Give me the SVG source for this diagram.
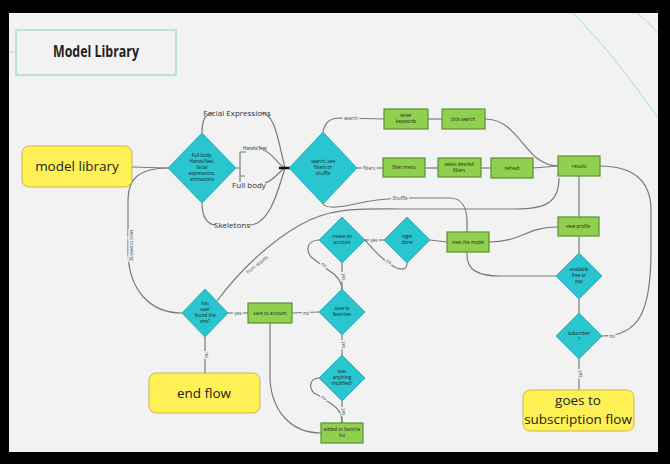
<svg xmlns="http://www.w3.org/2000/svg" width="670" height="464" viewBox="0 0 670 464">
<style>
.dia{fill:#29c6d0;stroke:#1ba3ad;stroke-width:0.8}
.box{fill:#8fd14f;stroke:#5c8f35;stroke-width:1.2}
.term{fill:#fff155;stroke:#b9a93c;stroke-width:0.8}
.ln{fill:none;stroke:#7a7a7a;stroke-width:1.2}
.t{font-family:"Open Sans","Liberation Sans",sans-serif;fill:#222;text-anchor:middle}
.s{font-size:4.6px}
.lbl{font-family:"Open Sans","Liberation Sans",sans-serif;font-size:4.6px;fill:#444;text-anchor:middle;paint-order:stroke;stroke:#f2f2f2;stroke-width:3px}
.big{font-size:13.5px}
.mid{font-size:8px;fill:#333}
</style>
<rect width="670" height="464" fill="#000"/>
<rect x="9" y="13" width="649" height="439" fill="#f2f2f2"/>
<path d="M573,13 Q615,55 658,118" fill="none" stroke="#9fe0d2" stroke-width="1"/>
<path d="M637,13 Q648,22 658,33" fill="none" stroke="#9fe0d2" stroke-width="1"/>
<g id="title">
<line x1="9" y1="52" x2="16" y2="52" stroke="#9fe0d2" stroke-width="1"/>
<rect x="16" y="30" width="160" height="45" fill="#f2f2f2" stroke="#a8ddd0" stroke-width="1.5"/>
<text class="t" x="96" y="57" font-size="15.5" font-weight="bold" textLength="86" lengthAdjust="spacingAndGlyphs">Model Library</text>
</g>
<g id="connectors">
<path class="ln" d="M132,167 L168,168"/>
<path class="ln" d="M202,133 C202,120 205,113 214,113"/>
<path class="ln" d="M261,113 C275,113 278,140 285,168"/>
<path class="ln" d="M202,203 C202,218 208,225 216,225"/>
<path class="ln" d="M249,225 C270,225 278,190 285,168"/>
<path class="ln" d="M236,168 L240,168 M240,152 L240,182 M240,152 L246,152 M240,176 L245,176"/>
<path class="ln" d="M263,150 C272,152 278,165 285,168"/>
<path class="ln" d="M265,183 C275,180 280,170 285,168"/>
<path d="M279,168 L290,168" stroke="#111" stroke-width="2.5"/>
<path class="ln" d="M323,132 C325,122 330,118 340,118 L384,119"/>
<path class="ln" d="M357,168 L383,168"/>
<path class="ln" d="M428,119 L442,119"/>
<path class="ln" d="M425,168 L438,168"/>
<path class="ln" d="M481,168 L491,168"/>
<path class="ln" d="M485,119 C520,119 525,166 558,166"/>
<path class="ln" d="M533,168 L558,166"/>
<path class="ln" d="M579,176 L579,217"/>
<path class="ln" d="M559,178 C559,203 545,209 515,209 L400,209 C360,209 330,207 300,225 C270,242 240,270 217,301"/>
<path class="ln" d="M323,204 C326,208 335,208 350,205 C370,200 390,198 410,198 L450,198 C462,198 467,208 467,222 L467,255 C467,270 478,276 500,276 L556,276"/>
<path class="ln" d="M579,236 L579,253"/>
<path class="ln" d="M579,299 L579,313"/>
<path class="ln" d="M579,359 L579,390"/>
<path class="ln" d="M602,336 C640,336 651,310 651,250 L651,210 C651,180 632,166 600,166"/>
<path class="ln" d="M489,242 C522,242 525,227 558,227"/>
<path class="ln" d="M430,240 L447,242"/>
<path class="ln" d="M365,240 L384,240"/>
<path class="ln" d="M365,240 C372,248 380,258 390,264 C398,270 407,272 407,263"/>
<path class="ln" d="M319,240 C305,240 305,255 315,260 L335,275 C340,280 342,285 342,289"/>
<path class="ln" d="M342,263 L342,289"/>
<path class="ln" d="M228,313 L248,313"/>
<path class="ln" d="M292,313 L319,312"/>
<path class="ln" d="M342,335 L342,355"/>
<path class="ln" d="M319,378 C308,378 308,392 318,395 L333,405 C340,410 342,415 342,423"/>
<path class="ln" d="M342,401 L342,423"/>
<path class="ln" d="M270,323 L270,380 C272,410 290,433 321,433"/>
<path class="ln" d="M205,337 L205,373"/>
<path class="ln" d="M182,313 C150,313 128,290 128,250 L128,200 C128,178 140,168 168,168"/>
<text class="t mid" x="237" y="116">Facial Expressions</text>
<text class="t mid" x="232" y="228">Skeletons</text>
<text class="t mid" x="249" y="188">Full body</text>
<text class="t" x="255" y="150" font-size="4.6" fill="#333">Hands/feet</text>
<text class="lbl" x="351" y="120">search</text>
<text class="lbl" x="369" y="170">filters</text>
<text class="lbl" x="400" y="200">Shuffle</text>
<text class="lbl" transform="translate(258,266) rotate(-38)">from results</text>
<text class="lbl" x="374" y="242">yes</text>
<text class="lbl" transform="translate(388,263) rotate(30)">no</text>
<text class="lbl" transform="translate(323,266) rotate(35)">no</text>
<text class="lbl" transform="translate(342,277) rotate(90)">yes</text>
<text class="lbl" x="238" y="315">yes</text>
<text class="lbl" x="306" y="315">no</text>
<text class="lbl" transform="translate(342,345) rotate(90)">yes</text>
<text class="lbl" transform="translate(323,399) rotate(35)">no</text>
<text class="lbl" transform="translate(342,412) rotate(90)">yes</text>
<text class="lbl" transform="translate(205,355) rotate(90)">no</text>
<text class="lbl" transform="translate(579,374) rotate(90)">yes</text>
<text class="lbl" x="612" y="338">no</text>
<text class="lbl" transform="translate(130,245) rotate(90)">keep browsing</text>
</g>
<g id="model-library"><rect class="term" x="22" y="146" width="110" height="41" rx="7"/><text class="t big" x="77" y="171">model library</text></g>
<g id="d-category"><polygon class="dia" points="202,133 236,168 202,203 168,168"/><text class="t s" x="202" y="157">Full body,<tspan x="202" dy="6">Hands/feet,</tspan><tspan x="202" dy="6">facial</tspan><tspan x="202" dy="6">expressions,</tspan><tspan x="202" dy="6">animations</tspan></text></g>
<g id="d-search"><polygon class="dia" points="323,132 357,168 323,204 289,168"/><text class="t s" x="323" y="163">search, see<tspan x="323" dy="6">filters or</tspan><tspan x="323" dy="6">shuffle</tspan></text></g>
<g id="b-keywords"><rect class="box" x="384" y="109" width="44" height="20"/><text class="t s" x="406" y="117">enter</text><text class="t s" x="406" y="123">keywords</text></g>
<g id="b-search"><rect class="box" x="442" y="109" width="43" height="20"/><text class="t s" x="463" y="121">click search</text></g>
<g id="b-filter"><rect class="box" x="383" y="158" width="42" height="19"/><text class="t s" x="404" y="169">filter menu</text></g>
<g id="b-select"><rect class="box" x="438" y="158" width="43" height="19"/><text class="t s" x="459" y="166">select desired</text><text class="t s" x="459" y="172">filters</text></g>
<g id="b-apply"><rect class="box" x="491" y="158" width="42" height="20"/><text class="t s" x="512" y="170">refresh</text></g>
<g id="b-results"><rect class="box" x="558" y="156" width="42" height="20"/><text class="t s" x="579" y="168">results</text></g>
<g id="b-profile"><rect class="box" x="558" y="217" width="41" height="19"/><text class="t s" x="578" y="228">view profile</text></g>
<g id="d-available"><polygon class="dia" points="579,253 602,276 579,299 556,276"/><text class="t s" x="579" y="271">available<tspan x="579" dy="6">free or</tspan><tspan x="579" dy="6">pay</tspan></text></g>
<g id="d-subscriber"><polygon class="dia" points="579,313 602,336 579,359 556,336"/><text class="t s" x="579" y="335">subscriber<tspan x="579" dy="6">?</tspan></text></g>
<g id="subscription"><rect class="term" x="523" y="390" width="111" height="41" rx="7"/><text class="t big" x="578" y="405">goes to</text><text class="t big" x="578" y="424">subscription flow</text></g>
<g id="d-create"><polygon class="dia" points="342,217 365,240 342,263 319,240"/><text class="t s" x="342" y="238">create an<tspan x="342" dy="6">account</tspan></text></g>
<g id="d-login"><polygon class="dia" points="407,217 430,240 407,263 384,240"/><text class="t s" x="407" y="238">login<tspan x="407" dy="6">done</tspan></text></g>
<g id="b-model"><rect class="box" x="447" y="232" width="42" height="20"/><text class="t s" x="468" y="244">view the model</text></g>
<g id="d-satisfied"><polygon class="dia" points="205,289 228,313 205,337 182,313"/><text class="t s" x="205" y="305">has<tspan x="205" dy="6">user</tspan><tspan x="205" dy="6">found the</tspan><tspan x="205" dy="6">one?</tspan></text></g>
<g id="b-save"><rect class="box" x="248" y="303" width="44" height="20"/><text class="t s" x="270" y="315">save to account</text></g>
<g id="d-favorites"><polygon class="dia" points="342,289 365,312 342,335 319,312"/><text class="t s" x="342" y="310">save to<tspan x="342" dy="6">favorites</tspan></text></g>
<g id="d-modified"><polygon class="dia" points="342,355 365,378 342,401 319,378"/><text class="t s" x="342" y="373">was<tspan x="342" dy="6">anything</tspan><tspan x="342" dy="6">modified?</tspan></text></g>
<g id="b-added"><rect class="box" x="321" y="423" width="42" height="20"/><text class="t s" x="342" y="431">added to favorite</text><text class="t s" x="342" y="437">list</text></g>
<g id="end-flow"><rect class="term" x="149" y="373" width="111" height="40" rx="7"/><text class="t big" x="204" y="398">end flow</text></g>
</svg>
